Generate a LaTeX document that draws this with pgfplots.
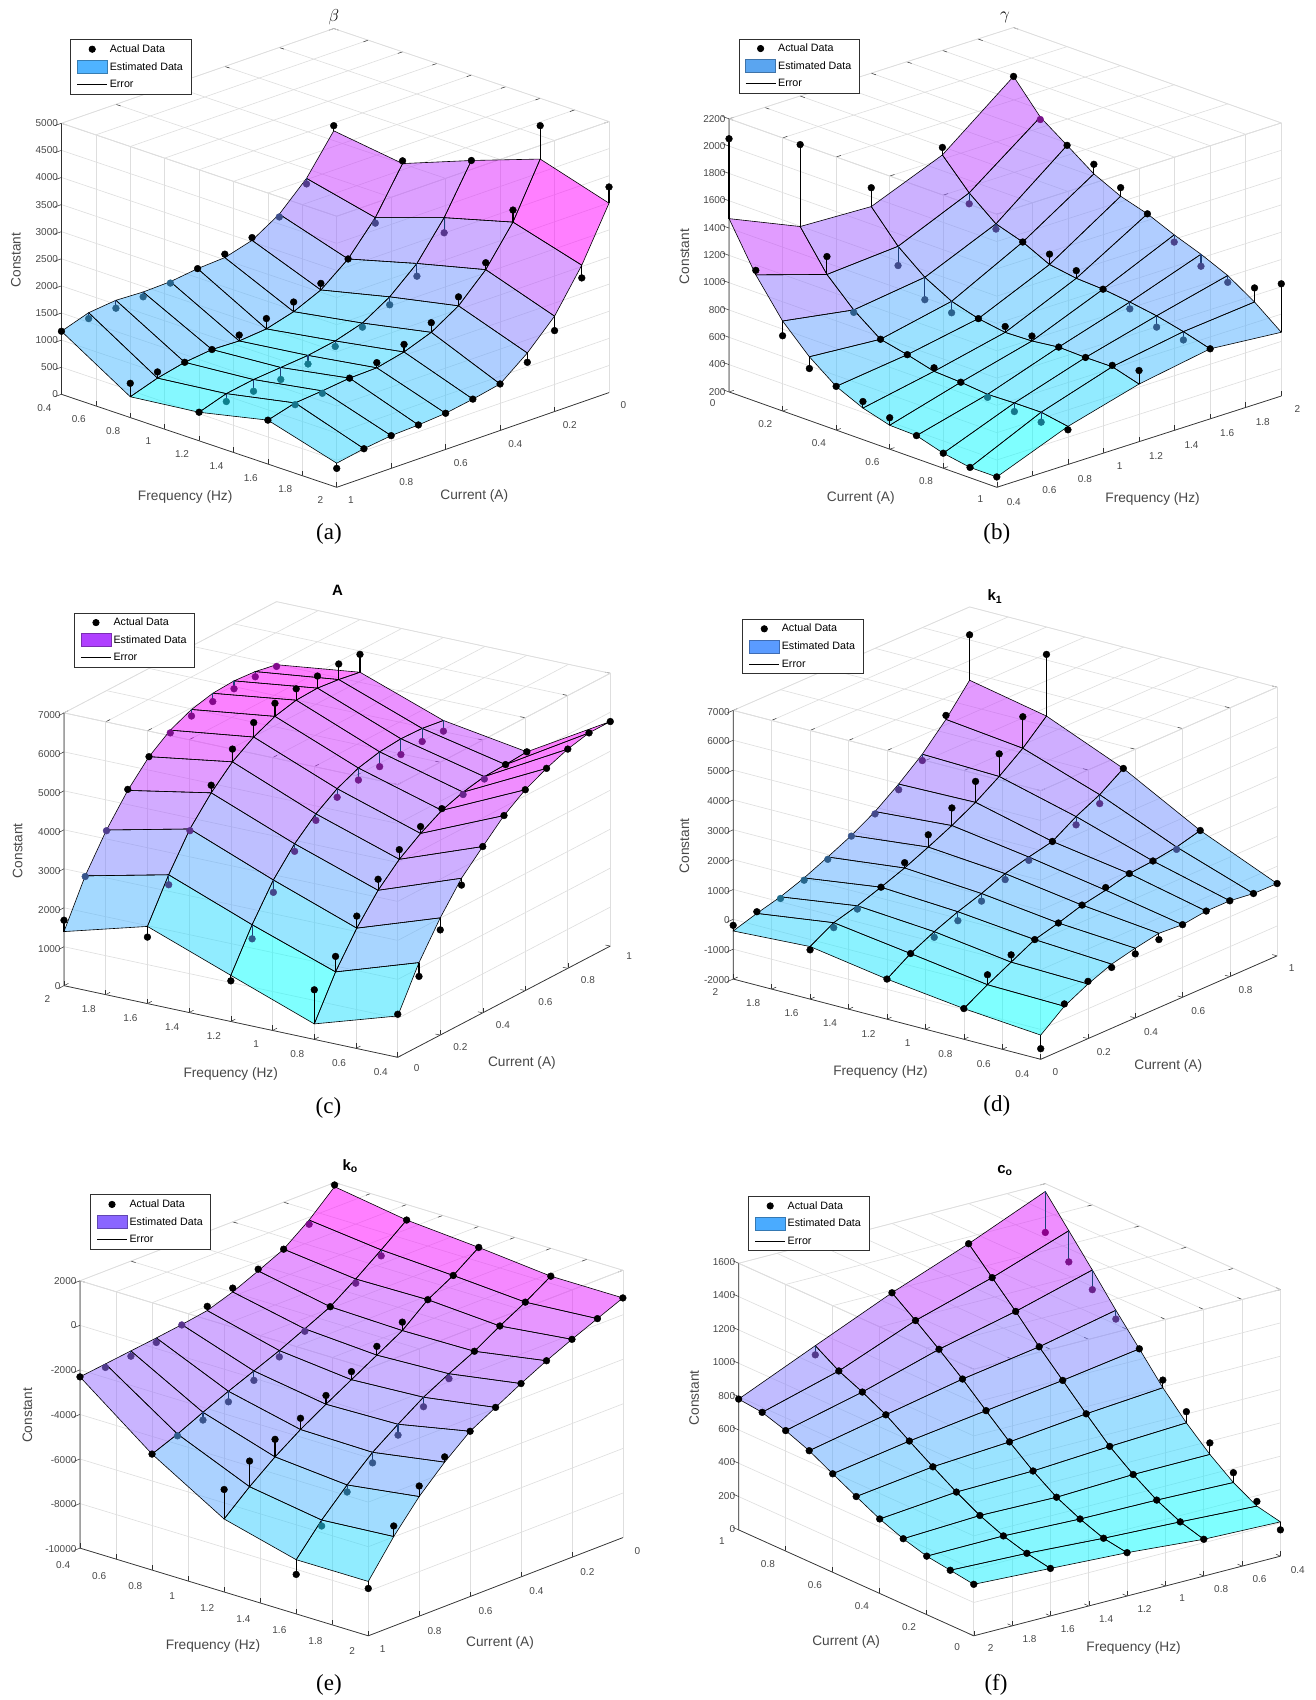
\documentclass[border=0pt]{standalone}
\usepackage{fontspec}
\setmainfont{Liberation Sans}
\newfontfamily\capfont{Liberation Serif}
\usepackage{pgfplots}
\usepackage{pgfplotstable}
\pgfplotsset{compat=1.18}
\definecolor{axdark}{HTML}{303030}
\definecolor{txtgray}{HTML}{484848}
\definecolor{gridc}{HTML}{DEDEDE}
\definecolor{underline}{HTML}{1C3F7A}
\definecolor{lgA}{HTML}{4FB3FF}
\definecolor{lgB}{HTML}{5AA5F0}
\definecolor{lgC}{HTML}{B040FF}
\definecolor{lgD}{HTML}{5A9BFF}
\definecolor{lgE}{HTML}{8A66FF}
\definecolor{lgF}{HTML}{4AABFF}

\pgfplotstableread{
f c s a
0.4 0.0 3113 3208
0.4 0.1 2411 2309
0.4 0.2 1925 1874
0.4 0.3 1617 1668
0.4 0.4 1474 1537
0.4 0.5 1445 1445
0.4 0.6 1379 1353
0.4 0.7 1363 1274
0.4 0.8 1385 1239
0.4 0.9 1331 1223
0.4 1.0 1163 1163
0.8 0.0 2938 2989
0.8 0.1 2116 2014
0.8 0.2 1528 1528
0.8 0.3 1131 1252
0.8 0.4 905 1083
0.8 0.5 762 953
0.8 0.6 715 823
0.8 0.7 731 731
0.8 0.8 670 670
0.8 0.9 553 667
0.8 1.0 384 632
1.2 0.0 3424 3424
1.2 0.1 2544 2265
1.2 0.2 1874 1639
1.2 0.3 1433 1286
1.2 0.4 1124 1048
1.2 0.5 969 867
1.2 0.6 877 718
1.2 0.7 829 607
1.2 0.8 781 565
1.2 0.9 696 550
1.2 1.0 527 527
1.6 0.0 3879 4495
1.6 0.1 2891 3113
1.6 0.2 2189 2316
1.6 0.3 1696 1861
1.6 0.4 1382 1560
1.6 0.5 1194 1334
1.6 0.6 1077 1172
1.6 0.7 1061 1061
1.6 0.8 1001 956
1.6 0.9 953 921
1.6 1.0 810 810
2.0 0.0 3494 3793
2.0 0.1 2525 2290
2.0 0.2 1760 1493
2.0 0.3 1255 1083
2.0 0.4 858 858
2.0 0.5 753 753
2.0 0.6 667 667
2.0 0.7 626 626
2.0 0.8 604 604
2.0 0.9 537 537
2.0 1.0 445 349
}\tabA

\pgfplotstableread{
f c s a
0.4 0.0 1469 2054
0.4 0.1 1127 1160
0.4 0.2 859 751
0.4 0.3 667 581
0.4 0.4 520 520
0.4 0.5 431 479
0.4 0.6 375 430
0.4 0.7 369 369
0.4 0.8 310 310
0.4 0.9 276 276
0.4 1.0 276 276
0.8 0.0 1244 1844
0.8 0.1 963 1094
0.8 0.2 773 755
0.8 0.3 628 628
0.8 0.4 585 585
0.8 0.5 533 559
0.8 0.6 523 523
0.8 0.7 504 482
0.8 0.8 511 448
0.8 0.9 513 440
0.8 1.0 479 454
1.2 0.0 1223 1361
1.2 0.1 1002 861
1.2 0.2 845 681
1.2 0.3 739 655
1.2 0.4 682 682
1.2 0.5 651 694
1.2 0.6 658 694
1.2 0.7 683 683
1.2 0.8 677 677
1.2 0.9 679 689
1.2 1.0 622 721
1.6 0.0 1434 1489
1.6 0.1 1226 1146
1.6 0.2 1069 1031
1.6 0.3 1006 1006
1.6 0.4 911 987
1.6 0.5 880 936
1.6 0.6 870 870
1.6 0.7 846 796
1.6 0.8 815 732
1.6 0.9 769 708
1.6 1.0 713 713
2.0 0.0 1842 1842
2.0 0.1 1614 1596
2.0 0.2 1477 1477
2.0 0.3 1338 1408
2.0 0.4 1244 1307
2.0 0.5 1185 1185
2.0 0.6 1101 1048
2.0 0.7 1029 941
2.0 0.8 943 893
2.0 0.9 819 922
2.0 1.0 667 1022
}\tabB

\pgfplotstableread{
f c s a
0.4 0.0 1061 1105
0.4 0.1 2145 1791
0.4 0.2 3008 2699
0.4 0.3 3739 3563
0.4 0.4 4267 4267
0.4 0.5 4777 4777
0.4 0.6 5154 5154
0.4 0.7 5417 5417
0.4 0.8 5626 5626
0.4 0.9 5756 5756
0.4 1.0 5762 5762
0.8 0.0 398 1273
0.8 0.1 1447 1844
0.8 0.2 2284 2593
0.8 0.3 2970 3253
0.8 0.4 3480 3728
0.8 0.5 3858 4035
0.8 0.6 4164 4209
0.8 0.7 4347 4286
0.8 0.8 4460 4398
0.8 0.9 4483 4483
0.8 1.0 4525 4525
1.2 0.0 1184 1043
1.2 0.1 2198 1836
1.2 0.2 3061 2743
1.2 0.3 3704 3510
1.2 0.4 4187 4019
1.2 0.5 4547 4326
1.2 0.6 4792 4483
1.2 0.7 4922 4542
1.2 0.8 4972 4566
1.2 0.9 4952 4616
1.2 1.0 4870 4596
1.6 0.0 1980 1706
1.6 0.1 3020 2764
1.6 0.2 3910 3866
1.6 0.3 4552 4747
1.6 0.4 5062 5389
1.6 0.5 5413 5784
1.6 0.6 5658 5994
1.6 0.7 5788 6080
1.6 0.8 5812 6121
1.6 0.9 5747 6145
1.6 1.0 5648 6107
2.0 0.0 1388 1679
2.0 0.1 2534 2516
2.0 0.2 3424 3406
2.0 0.3 4155 4181
2.0 0.4 4735 4735
2.0 0.5 5130 5060
2.0 0.6 5375 5207
2.0 0.7 5505 5293
2.0 0.8 5538 5335
2.0 0.9 5491 5358
2.0 1.0 5382 5338
}\tabC

\pgfplotstableread{
f c s a
0.4 0.0 -1189 -1644
0.4 0.1 -569 -491
0.4 0.2 -171 -82
0.4 0.3 149 38
0.4 0.4 335 146
0.4 0.5 489 278
0.4 0.6 431 431
0.4 0.7 540 540
0.4 0.8 538 538
0.4 0.9 435 435
0.4 1.0 422 422
0.8 0.0 -972 -972
0.8 0.1 -519 -186
0.8 0.2 -110 134
0.8 0.3 299 299
0.8 0.4 508 508
0.8 0.5 761 761
0.8 0.6 914 1003
0.8 0.7 1123 1123
0.8 0.8 1199 1199
0.8 0.9 1319 1241
0.8 1.0 1527 1527
1.2 0.0 -656 -656
1.2 0.1 -147 -147
1.2 0.2 240 51
1.2 0.3 560 260
1.2 0.4 824 569
1.2 0.5 1144 944
1.2 0.6 1353 1242
1.2 0.7 1528 1528
1.2 0.8 2015 1737
1.2 0.9 2402 2102
1.2 1.0 2933 2933
1.6 0.0 -239 -350
1.6 0.1 214 48
1.6 0.2 434 323
1.6 0.3 710 710
1.6 0.4 1007 1185
1.6 0.5 1361 1772
1.6 0.6 1736 2325
1.6 0.7 2167 2867
1.6 0.8 2687 3443
1.6 0.9 3285 4341
1.6 1.0 4016 6082
2.0 0.0 -389 -200
2.0 0.1 -147 -91
2.0 0.2 62 6
2.0 0.3 349 271
2.0 0.4 702 624
2.0 0.5 1077 1055
2.0 0.6 1531 1453
2.0 0.7 2106 1917
2.0 0.8 2760 2548
2.0 0.9 3579 3713
2.0 1.0 4544 6066
}\tabD

\pgfplotstableread{
f c s a
0.4 0.0 1813 1891
0.4 0.1 757 568
0.4 0.2 -109 -109
0.4 0.3 -644 -566
0.4 0.4 -1148 -975
0.4 0.5 -1542 -1353
0.4 0.6 -1731 -1747
0.4 0.7 -1889 -2093
0.4 0.8 -2030 -2267
0.4 0.9 -2172 -2330
0.4 1.0 -2314 -2314
0.8 0.0 1301 1301
0.8 0.1 403 135
0.8 0.2 -463 -652
0.8 0.3 -1267 -1267
0.8 0.4 -1818 -1928
0.8 0.5 -2353 -2637
0.8 0.6 -2826 -3251
0.8 0.7 -3298 -3771
0.8 0.8 -3802 -4149
0.8 0.9 -4338 -4417
0.8 1.0 -4795 -4795
1.2 0.0 1057 1057
1.2 0.1 238 238
1.2 0.2 -408 -408
1.2 0.3 -1353 -975
1.2 0.4 -2015 -1621
1.2 0.5 -2676 -2314
1.2 0.6 -3338 -2944
1.2 0.7 -4031 -3527
1.2 0.8 -4818 -4031
1.2 0.9 -5716 -4566
1.2 1.0 -6724 -5401
1.6 0.0 749 749
1.6 0.1 25 25
1.6 0.2 -605 -605
1.6 0.3 -1298 -1298
1.6 0.4 -1865 -2086
1.6 0.5 -2479 -2905
1.6 0.6 -3251 -3739
1.6 0.7 -4070 -4543
1.6 0.8 -5094 -5409
1.6 0.9 -6228 -6496
1.6 1.0 -7567 -8228
2.0 0.0 757 757
2.0 0.1 269 269
2.0 0.2 -219 -219
2.0 0.3 -739 -739
2.0 0.4 -1322 -1322
2.0 0.5 -1952 -1952
2.0 0.6 -2582 -2582
2.0 0.7 -3527 -3291
2.0 0.8 -4629 -4157
2.0 0.9 -5984 -5511
2.0 1.0 -7559 -7874
}\tabE

\pgfplotstableread{
f c s a
0.4 0.0 206 158
0.4 0.1 237 265
0.4 0.2 315 374
0.4 0.3 420 489
0.4 0.4 546 613
0.4 0.5 693 739
0.4 0.6 863 863
0.4 0.7 1031 978
0.4 0.8 1209 1091
0.4 0.9 1381 1194
0.4 1.0 1553 1307
0.8 0.0 221 221
0.8 0.1 262 262
0.8 0.2 329 329
0.8 0.3 419 419
0.8 0.4 524 524
0.8 0.5 656 656
0.8 0.6 793 793
0.8 0.7 931 931
0.8 0.8 1080 1080
0.8 0.9 1219 1219
0.8 1.0 1359 1359
1.2 0.0 260 260
1.2 0.1 283 283
1.2 0.2 335 335
1.2 0.3 402 402
1.2 0.4 496 496
1.2 0.5 607 607
1.2 0.6 731 731
1.2 0.7 857 857
1.2 0.8 972 972
1.2 0.9 1081 1081
1.2 1.0 1184 1184
1.6 0.0 285 285
1.6 0.1 312 312
1.6 0.2 353 353
1.6 0.3 412 412
1.6 0.4 489 489
1.6 0.5 577 577
1.6 0.6 668 668
1.6 0.7 762 762
1.6 0.8 835 835
1.6 0.9 898 898
1.6 1.0 986 931
2.0 0.0 309 309
2.0 0.1 330 330
2.0 0.2 351 351
2.0 0.3 392 392
2.0 0.4 447 447
2.0 0.5 518 518
2.0 0.6 591 591
2.0 0.7 666 666
2.0 0.8 723 723
2.0 0.9 769 769
2.0 1.0 785 785
}\tabF

\tikzset{place/.style 2 args={at={(axis description cs:#1,#2)},anchor=center,font=\fontsize{13.7}{16}\selectfont,text=txtgray}}
\pgfplotsset{
  colormap={coolmap}{rgb255(0cm)=(0,255,255); rgb255(1cm)=(255,0,255)},
  legA/.style={legend image code/.code={\fill[black] (15pt,0pt) circle (3.2pt);}},
  legC/.style={legend image code/.code={\draw[black,line width=1.1pt] (0pt,0pt) -- (30pt,0pt);}},
  panel/.style={
    clip=false,
    xmin=0.4,xmax=2,ymin=0,ymax=1,
    xtick={0.4,0.6,...,2.01},
    ytick={0,0.2,...,1.01},
    tick pos=left,
    scaled z ticks=false,
    /pgf/number format/assume math mode=true,
    /pgf/number format/1000 sep={},
    tick label style={font=\fontsize{10}{12}\selectfont,text=txtgray},
    grid=major,
    major grid style={gridc,line width=0.6pt},
    axis line style={gridc,line width=0.6pt},
    tick style={axdark,line width=0.5pt},
    ztick style={draw=none},
    major tick length=5pt,
    legend cell align=left,
    legend style={font=\fontsize{10.7}{12.5}\selectfont,draw=axdark,line width=0.7pt,
      anchor=north west,inner xsep=6pt,inner ysep=3pt,row sep=4.2pt,text=black},
  },
}
\newcommand{\legendbits}[1]{%
  \addlegendimage{legA}\addlegendentry{Actual Data}
  \addlegendimage{legend image code/.code={\draw[fill=#1,draw=#1!70!black,line width=0.8pt] (0pt,-6.5pt) rectangle (30pt,6.5pt);}}\addlegendentry{Estimated Data}
  \addlegendimage{legC}\addlegendentry{Error}
}
\newcommand{\zticks}[4]{%
  \pgfplotsinvokeforeach{#4}{\draw[axdark,line width=0.5pt] (axis cs:#1,#2,##1) -- (axis cs:#1,#3,##1);}%
}
% #1 table, #2 test that is true on the two front edges of the surface
\newcommand{\panelplots}[2]{%
  \addplot3[forget plot,surf,shader=flat corner,z buffer=none,fill opacity=0.5,draw opacity=0,
     mesh/rows=5,mesh/cols=11] table[x=f,y=c,z=s] {#1};
  \addplot3[forget plot,surf,shader=faceted,z buffer=none,faceted color=black,fill opacity=0,draw opacity=1,line width=0.6pt,
     mesh/rows=5,mesh/cols=11] table[x=f,y=c,z=s] {#1};
  \addplot3[forget plot,only marks,scatter,mark=*,mark size=3.4pt,
     scatter/use mapped color={draw=mapped color!55!black,fill=mapped color!55!black},
     point meta=\thisrow{s},
     restrict expr to domain={((\thisrow{a}-\thisrow{s}<-0.5) && !(#2)) ? 1 : 0}{0.5:1.5},
     error bars/.cd,z dir=plus,z explicit,error mark=none,error bar style={underline,line width=1.1pt}]
     table[x=f,y=c,z=a,z error plus expr=\thisrow{s}-\thisrow{a}] {#1};
  \addplot3[forget plot,only marks,mark=*,mark size=3.4pt,black,
     restrict expr to domain={((\thisrow{a}-\thisrow{s}>=-0.5) || (#2)) ? 1 : 0}{0.5:1.5},
     error bars/.cd,z dir=both,z explicit,error mark=none,error bar style={black,line width=1.1pt}]
     table[x=f,y=c,z=a,z error plus expr={max(\thisrow{s}-\thisrow{a},0)},z error minus expr={max(\thisrow{a}-\thisrow{s},0)}] {#1};
}

\begin{document}
\begin{tikzpicture}
\path[use as bounding box,fill=white] (0pt,0pt) rectangle (1316pt,-1700pt);

% (a)
\begin{axis}[panel,at={(61.45pt,-487.3pt)},anchor=south west,
  x={(172.04pt,-58.12pt)},y={(-272.3pt,-94.71pt)},z={(0pt,0.05421pt)},
  zmin=0,zmax=5000,ztick={0,500,...,5000},
  xticklabel style={xshift=-11pt,yshift=-5pt},yticklabel style={xshift=9pt,yshift=-5pt},
  title={\fontsize{19}{21}\selectfont$\beta$},title style={place={.4974}{1.011},text=black},
  xlabel={Frequency (Hz)},ylabel={Current (A)},zlabel={Constant},
  every axis x label/.style={place={.226}{-.0203}},
  every axis y label/.style={place={.754}{-.0187}},
  every axis z label/.style={place={-.083}{.4955},rotate=90},
  legend style={at={(axis description cs:.0162,.9767)}}]
  \legendbits{lgA}
  \draw[axdark,line width=0.7pt] (axis cs:0.4,1,5000)--(axis cs:0.4,1,0)--(axis cs:2,1,0)--(axis cs:2,0,0);
  \zticks{0.4}{1}{1.025}{0,500,...,5000}
  \panelplots{\tabA}{\thisrow{f}>1.99 || \thisrow{c}>0.99}
\end{axis}

% (b)
\begin{axis}[panel,at={(729.03pt,-487.3pt)},anchor=south west,
  x={(177.81pt,57.04pt)},y={(267.76pt,-95.40pt)},z={(0pt,0.13655pt)},
  zmin=200,zmax=2200,ztick={200,400,...,2200},
  xticklabel style={xshift=11pt,yshift=-6pt},yticklabel style={xshift=-11pt,yshift=-4pt},
  title={\fontsize{19}{21}\selectfont$\gamma$},title style={place={.4997}{1.008},text=black},
  xlabel={Frequency (Hz)},ylabel={Current (A)},zlabel={Constant},
  every axis x label/.style={place={.767}{-.0248}},
  every axis y label/.style={place={.2385}{-.0233}},
  every axis z label/.style={place={-.081}{.5018},rotate=90},
  legend style={at={(axis description cs:.0175,.976)}}]
  \legendbits{lgB}
  \draw[axdark,line width=0.7pt] (axis cs:0.4,0,2200)--(axis cs:0.4,0,200)--(axis cs:0.4,1,200)--(axis cs:2,1,200);
  \zticks{0.4}{0}{-0.025}{200,400,...,2200}
  \panelplots{\tabB}{\thisrow{f}<0.41 || \thisrow{c}>0.99}
\end{axis}

% (c)
\begin{axis}[panel,at={(63.98pt,-1057.3pt)},anchor=south west,
  x={(-208.6pt,44.77pt)},y={(212.56pt,111.24pt)},z={(0pt,0.03897pt)},
  zmin=0,zmax=7000,ztick={0,1000,...,7000},
  xticklabel style={xshift=-12pt,yshift=-6pt},yticklabel style={xshift=13pt,yshift=-3pt},
  title={\fontsize{15}{17}\selectfont\bfseries A},title style={place={.5009}{1.0126},text=black},
  xlabel={Frequency (Hz)},ylabel={Current (A)},zlabel={Constant},
  every axis x label/.style={place={.3052}{-.0356}},
  every axis y label/.style={place={.8382}{-.0114}},
  every axis z label/.style={place={-.0847}{.4535},rotate=90},
  legend style={at={(axis description cs:.0185,.9759)}}]
  \legendbits{lgC}
  \draw[axdark,line width=0.7pt] (axis cs:2,0,7000)--(axis cs:2,0,0)--(axis cs:0.4,0,0)--(axis cs:0.4,1,0);
  \zticks{2}{0}{-0.025}{0,1000,...,7000}
  \panelplots{\tabC}{\thisrow{f}<0.41 || \thisrow{c}<0.01}
\end{axis}

% (d)
\begin{axis}[panel,at={(733.2pt,-1059.3pt)},anchor=south west,
  x={(-192.2pt,50.16pt)},y={(236.38pt,103.47pt)},z={(0pt,0.029847pt)},
  zmin=-2000,zmax=7000,ztick={-2000,-1000,...,7000},
  xticklabel style={xshift=-13pt,yshift=-6pt},yticklabel style={xshift=9pt,yshift=-5pt},
  title={\fontsize{15}{17}\selectfont\bfseries k\textsubscript{1}},title style={place={.4813}{1.0099},text=black},
  xlabel={Frequency (Hz)},ylabel={Current (A)},zlabel={Constant},
  every axis x label/.style={place={.2708}{-.0272}},
  every axis y label/.style={place={.8}{-.0146}},
  every axis z label/.style={place={-.0899}{.4716},rotate=90},
  legend style={at={(axis description cs:.0169,.9737)}}]
  \legendbits{lgD}
  \draw[axdark,line width=0.7pt] (axis cs:2,0,7000)--(axis cs:2,0,-2000)--(axis cs:0.4,0,-2000)--(axis cs:0.4,1,-2000);
  \zticks{2}{0}{-0.025}{-2000,-1000,...,7000}
  \panelplots{\tabD}{\thisrow{f}<0.41 || \thisrow{c}<0.01}
\end{axis}

% (e)
\begin{axis}[panel,at={(79.97pt,-1635.8pt)},anchor=south west,
  x={(180.19pt,-54.81pt)},y={(-254.6pt,-98.22pt)},z={(0pt,0.022274pt)},
  zmin=-10000,zmax=2000,ztick={-10000,-8000,...,2000},
  xticklabel style={xshift=-11pt,yshift=-8pt},yticklabel style={xshift=9pt,yshift=-6pt},
  title={\fontsize{15}{17}\selectfont\bfseries k\textsubscript{o}},title style={place={.4978}{1.0223},text=black},
  xlabel={Frequency (Hz)},ylabel={Current (A)},zlabel={Constant},
  every axis x label/.style={place={.245}{-.0216}},
  every axis y label/.style={place={.7737}{-.0154}},
  every axis z label/.style={place={-.0968}{.4861},rotate=90},
  legend style={at={(axis description cs:.0187,.9737)}}]
  \legendbits{lgE}
  \draw[axdark,line width=0.7pt] (axis cs:0.4,1,2000)--(axis cs:0.4,1,-10000)--(axis cs:2,1,-10000)--(axis cs:2,0,-10000);
  \zticks{0.4}{1}{1.025}{-10000,-8000,...,2000}
  \panelplots{\tabE}{\thisrow{f}>1.99 || \thisrow{c}>0.99}
\end{axis}

% (f)
\begin{axis}[panel,at={(738.65pt,-1635.8pt)},anchor=south west,
  x={(-191.66pt,-49.77pt)},y={(-235.1pt,105.93pt)},z={(0pt,0.16662pt)},
  zmin=0,zmax=1600,ztick={0,200,...,1600},
  xticklabel style={xshift=12pt,yshift=-5pt},yticklabel style={xshift=-11pt,yshift=-4pt},
  title={\fontsize{15}{17}\selectfont\bfseries c\textsubscript{o}},title style={place={.4915}{1.016},text=black},
  xlabel={Frequency (Hz)},ylabel={Current (A)},zlabel={Constant},
  every axis x label/.style={place={.729}{-.0272}},
  every axis y label/.style={place={.1985}{-.0133}},
  every axis z label/.style={place={-.0819}{.526},rotate=90},
  legend style={at={(axis description cs:.0178,.9728)}}]
  \legendbits{lgF}
  \draw[axdark,line width=0.7pt] (axis cs:2,1,1600)--(axis cs:2,1,0)--(axis cs:2,0,0)--(axis cs:0.4,0,0);
  \zticks{2}{1}{1.025}{0,200,...,1600}
  \panelplots{\tabF}{\thisrow{f}>1.99 || \thisrow{c}<0.01}
\end{axis}

\begin{scope}[every node/.style={font=\capfont\fontsize{23}{26}\selectfont,text=black}]
\node at (329pt,-534pt) {(a)};
\node at (996.8pt,-534pt) {(b)};
\node at (328.5pt,-1108pt) {(c)};
\node at (996.8pt,-1106pt) {(d)};
\node at (329pt,-1685pt) {(e)};
\node at (996pt,-1685pt) {(f)};
\end{scope}
\end{tikzpicture}
\end{document}
